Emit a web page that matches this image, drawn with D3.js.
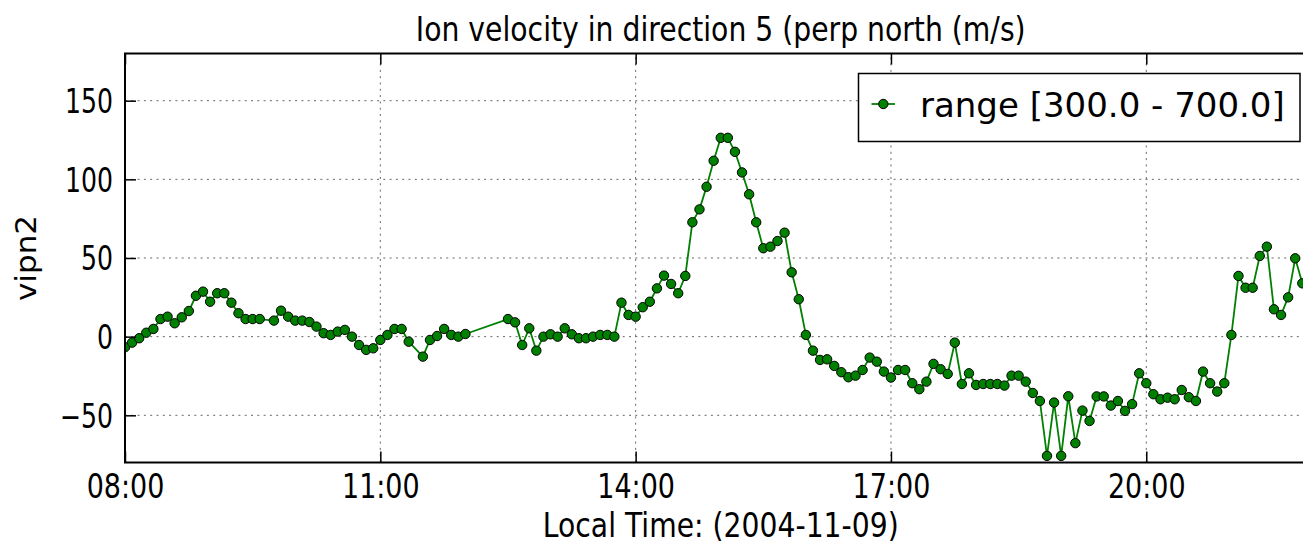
<!DOCTYPE html>
<html>
<head>
<meta charset="utf-8">
<script src="https://cdn.jsdelivr.net/npm/d3@7"></script>
<style>
  html, body { margin: 0; padding: 0; background: #fff; overflow: hidden; }
  svg { display: block; font-family: "DejaVu Sans", sans-serif; }
</style>
</head>
<body>
<svg id="chart" width="1303" height="545"></svg>
<script>
// ---- data: ion velocity, perp north component (m/s), 2004-11-09 local time ----
const day = "2004-11-09";
const times = [
  "08:00","08:05","08:10","08:15","08:20","08:25","08:30","08:35","08:40","08:45",
  "08:50","08:55","09:00","09:05","09:10","09:15","09:20","09:25","09:30","09:35",
  "09:45","09:50","09:55","10:00","10:05","10:10","10:15","10:20","10:25","10:30",
  "10:35","10:40","10:45","10:50","10:55","11:00","11:05","11:10","11:15","11:20",
  "11:30","11:35","11:40","11:45","11:50","11:55","12:00",
  "12:30","12:35","12:40","12:45","12:50","12:55","13:00","13:05","13:10","13:15",
  "13:20","13:25","13:30","13:35","13:40","13:45","13:50","13:55","14:00","14:05",
  "14:10","14:15","14:20","14:25","14:30","14:35","14:40","14:45","14:50","14:55",
  "15:00","15:05","15:10","15:15","15:20","15:25","15:30","15:35","15:40","15:45",
  "15:50","15:55","16:00","16:05","16:10","16:15","16:20","16:25","16:30","16:35",
  "16:40","16:45","16:50","16:55","17:00","17:05","17:10","17:15","17:20","17:25",
  "17:30","17:35","17:40","17:45","17:50","17:55","18:00","18:05","18:10","18:15",
  "18:20","18:25","18:30","18:35","18:40","18:45","18:50","18:55","19:00","19:05",
  "19:10","19:15","19:20","19:25","19:30","19:35","19:40","19:45","19:50","19:55",
  "20:00","20:05","20:10","20:15","20:20","20:25","20:30","20:35","20:40","20:45",
  "20:50","20:55","21:00","21:05","21:10","21:15","21:20","21:25","21:30","21:35",
  "21:40","21:45","21:50"
];
const vipn2 = [
  -6.7, -3.8, -1.0, 2.5, 4.9, 11.2, 12.7, 8.5, 12.3, 16.3,
  26.0, 28.6, 22.2, 27.6, 27.6, 21.6, 14.9, 11.2, 11.2, 11.2,
  10.2, 16.5, 12.7, 10.2, 10.2, 9.3, 6.4, 2.2, 1.1, 3.2,
  4.3, 0.0, -5.3, -8.4, -7.4, -2.1, 1.1, 4.9, 4.9, -3.2,
  -12.7, -2.1, 0.4, 4.9, 1.1, 0.0, 1.7,
  11.2, 9.1, -5.3, 5.3, -8.9, 0.0, 1.5, 0.0, 5.3, 1.5,
  -1.0, -1.0, 0.0, 1.1, 1.1, 0.0, 21.6, 13.8, 12.7, 18.7,
  22.2, 30.7, 38.8, 33.5, 27.6, 38.6, 72.7, 80.9, 95.3, 111.8,
  126.4, 126.4, 117.5, 104.4, 90.5, 72.7, 56.2, 57.2, 60.8, 66.1,
  40.9, 23.8, 1.1, -8.9, -14.8, -14.4, -18.6, -22.6, -25.8, -24.8,
  -21.2, -13.3, -15.9, -22.2, -26.0, -21.2, -21.2, -29.6, -33.4, -28.6,
  -17.3, -20.7, -23.7, -3.8, -30.1, -23.3, -30.7, -30.1, -30.1, -30.1,
  -31.1, -24.8, -24.8, -28.6, -35.8, -40.9, -75.8, -41.9, -75.8, -37.9,
  -67.7, -47.0, -53.6, -38.0, -38.0, -43.8, -40.9, -47.2, -42.9, -23.3,
  -29.6, -36.6, -39.8, -38.8, -39.8, -33.9, -38.5, -40.9, -22.2, -29.6,
  -34.9, -29.6, 1.1, 38.6, 31.1, 31.1, 51.3, 57.2, 17.4, 13.8,
  25.0, 49.8, 33.9
];
const xTickLabels = ["08:00", "11:00", "14:00", "17:00", "20:00"];
const xDomainLabels = ["08:00", "22:00"];
const yTicks = [-50, 0, 50, 100, 150];
const yDomain = [-80, 180];
const seriesLabel = "range [300.0 - 700.0]";
const titleText = "Ion velocity in direction 5 (perp north (m/s)";
const xLabelText = "Local Time: (2004-11-09)";
const yLabelText = "vipn2";

// ---- setup ----
const parse = d3.timeParse("%Y-%m-%d %H:%M");
const toDate = s => parse(day + " " + s);
const data = times.map((t, i) => ({ t: toDate(t), v: vipn2[i] }));

const W = 1303, H = 545;
const L = 125, T = 53.5, R = 1316.5, B = 462.5;
const FONT = "DejaVu Sans, sans-serif";
const GREEN = "#008000";
const MARKER_R = 4.7;

const x = d3.scaleTime().domain(xDomainLabels.map(toDate)).range([L, R]);
const y = d3.scaleLinear().domain(yDomain).range([B, T]);

const svg = d3.select("#chart");
svg.append("rect").attr("width", W).attr("height", H).attr("fill", "#fff");
svg.append("defs").append("clipPath").attr("id", "plot-clip")
  .append("rect").attr("x", L).attr("y", T).attr("width", R - L).attr("height", B - T);

const xTickDates = xTickLabels.map(toDate);

// narrow a text element horizontally so it spans the given width
function fitWidth(node, target) {
  const len = node.getComputedTextLength();
  return len > 0 ? target / len : 1;
}

// ---- grid ----
const grid = svg.append("g")
  .attr("stroke", "#000").attr("stroke-opacity", 0.6)
  .attr("stroke-width", 1).attr("stroke-dasharray", "2,4.3");
grid.selectAll(".gx").data(xTickDates).join("line")
  .attr("x1", d => x(d)).attr("x2", d => x(d)).attr("y1", B).attr("y2", T);
grid.selectAll(".gy").data(yTicks).join("line")
  .attr("y1", d => y(d)).attr("y2", d => y(d)).attr("x1", L).attr("x2", R);

// ---- series ----
const plot = svg.append("g").attr("clip-path", "url(#plot-clip)");
plot.append("path").datum(data)
  .attr("fill", "none").attr("stroke", GREEN).attr("stroke-width", 1.8)
  .attr("stroke-linejoin", "round")
  .attr("d", d3.line().x(d => x(d.t)).y(d => y(d.v)));
plot.selectAll("circle").data(data).join("circle")
  .attr("cx", d => x(d.t)).attr("cy", d => y(d.v)).attr("r", MARKER_R)
  .attr("fill", GREEN).attr("stroke", "#000").attr("stroke-width", 1);

// ---- axes (ticks point inward) ----
const TICK = 11;
const xAxis = svg.append("g").attr("transform", `translate(0,${B})`)
  .call(d3.axisBottom(x).tickValues(xTickDates).tickFormat(d3.timeFormat("%H:%M"))
    .tickSizeInner(-TICK).tickSizeOuter(0).tickPadding(0));
xAxis.attr("font-family", FONT).attr("font-size", 34);
xAxis.select(".domain").remove();
xAxis.selectAll(".tick line").attr("stroke", "#000").attr("stroke-width", 1.5);
const xTexts = xAxis.selectAll(".tick text").attr("fill", "#000").attr("dy", null).attr("y", 35.5);
const sxX = fitWidth(xTexts.node(), 77.7);
xTexts.attr("transform", `scale(${sxX},1)`);

svg.append("g").attr("transform", `translate(0,${T})`)
  .call(d3.axisTop(x).tickValues(xTickDates).tickFormat("").tickSizeInner(-TICK).tickSizeOuter(0))
  .call(g => g.select(".domain").remove())
  .selectAll(".tick line").attr("stroke", "#000").attr("stroke-width", 1.5);

const yAxis = svg.append("g").attr("transform", `translate(${L},0)`)
  .call(d3.axisLeft(y).tickValues(yTicks).tickSizeInner(-TICK).tickSizeOuter(0).tickPadding(0));
yAxis.attr("font-family", FONT).attr("font-size", 33);
yAxis.select(".domain").remove();
yAxis.selectAll(".tick line").attr("stroke", "#000").attr("stroke-width", 1.5);
const yTexts = yAxis.selectAll(".tick text").attr("fill", "#000").attr("dy", "0.36em");
const sxY = fitWidth(yTexts.filter(d => d === 150).node(), 48);
yTexts.attr("x", -12 / sxY).attr("transform", `scale(${sxY},1)`);

svg.append("g").attr("transform", `translate(${R},0)`)
  .call(d3.axisRight(y).tickValues(yTicks).tickFormat("").tickSizeInner(-TICK).tickSizeOuter(0))
  .call(g => g.select(".domain").remove())
  .selectAll(".tick line").attr("stroke", "#000").attr("stroke-width", 1.5);

// frame
svg.append("rect").attr("x", L).attr("y", T).attr("width", R - L).attr("height", B - T)
  .attr("fill", "none").attr("stroke", "#000").attr("stroke-width", 2);

// ---- titles ----
const cx = (L + R) / 2;
const title = svg.append("text").attr("font-family", FONT).attr("font-size", 34)
  .attr("text-anchor", "middle").attr("fill", "#000").text(titleText);
title.attr("transform", `translate(${cx},41) scale(${fitWidth(title.node(), 610)},1)`);

const xl = svg.append("text").attr("font-family", FONT).attr("font-size", 34)
  .attr("text-anchor", "middle").attr("fill", "#000").text(xLabelText);
xl.attr("transform", `translate(${cx},537) scale(${fitWidth(xl.node(), 356)},1)`);

const yl = svg.append("text").attr("font-family", FONT).attr("font-size", 29)
  .attr("text-anchor", "middle").attr("fill", "#000").text(yLabelText);
yl.attr("transform", `translate(35.5,${(T + B) / 2}) rotate(-90) scale(${fitWidth(yl.node(), 86)},1)`);

// ---- legend ----
const lg = svg.append("g").attr("transform", `translate(${R - 16.5},${T + 20})`);
lg.append("rect").attr("x", -441.5).attr("y", 0).attr("width", 441.5).attr("height", 68)
  .attr("fill", "#fff").attr("stroke", "#000").attr("stroke-width", 1.5);
lg.append("line").attr("x1", -428.5).attr("x2", -405).attr("y1", 30.5).attr("y2", 30.5)
  .attr("stroke", GREEN).attr("stroke-width", 1.8);
lg.append("circle").attr("cx", -416.7).attr("cy", 30.5).attr("r", MARKER_R)
  .attr("fill", GREEN).attr("stroke", "#000").attr("stroke-width", 1);
lg.append("text").attr("x", -380).attr("y", 43.5).attr("font-family", FONT).attr("font-size", 34)
  .attr("fill", "#000").text(seriesLabel);
</script>
</body>
</html>
